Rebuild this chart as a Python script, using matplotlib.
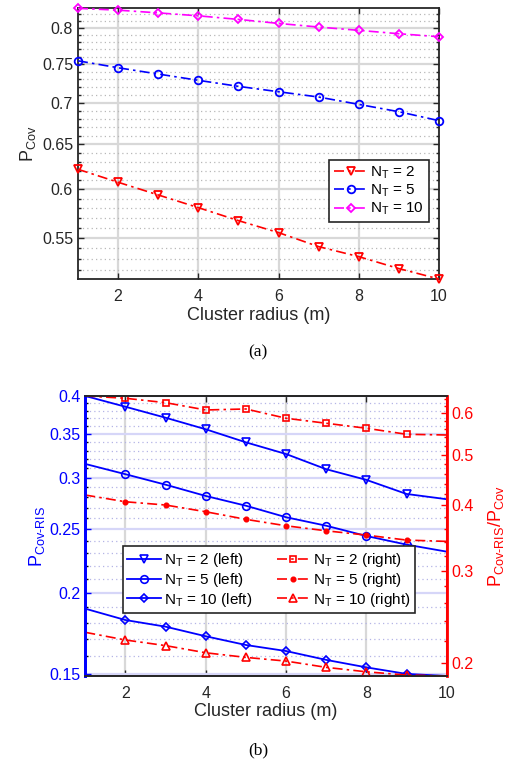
import matplotlib
matplotlib.use("Agg")
import matplotlib.pyplot as plt
from matplotlib.ticker import MultipleLocator, FuncFormatter, NullFormatter

plt.rcParams['font.family'] = ['Liberation Sans', 'DejaVu Sans']
plt.rcParams['mathtext.fontset'] = 'custom'
plt.rcParams['mathtext.rm'] = 'Liberation Sans'
plt.rcParams['mathtext.it'] = 'Liberation Sans:italic'

# ---------------- DATA ----------------
radius = [1, 2, 3, 4, 5, 6, 7, 8, 9, 10]

# (a) coverage probability without RIS
pcov_nt2 = [0.6219, 0.6077, 0.5941, 0.5808, 0.5675, 0.5555, 0.5418, 0.5322, 0.5210, 0.5114]
pcov_nt5 = [0.7546, 0.7453, 0.7370, 0.7288, 0.7210, 0.7141, 0.7074, 0.6982, 0.6891, 0.6782]
pcov_nt10 = [0.8286, 0.8259, 0.8219, 0.8176, 0.8124, 0.8066, 0.8014, 0.7967, 0.7919, 0.7877]

# (b) left axis: coverage with RIS
pris_nt2 = [0.4000, 0.3851, 0.3705, 0.3557, 0.3397, 0.3260, 0.3090, 0.2976, 0.2832, 0.2780]
pris_nt5 = [0.3148, 0.3036, 0.2926, 0.2812, 0.2717, 0.2609, 0.2532, 0.2442, 0.2369, 0.2311]
pris_nt10 = [0.1890, 0.1816, 0.1774, 0.1715, 0.1663, 0.1628, 0.1578, 0.1537, 0.1502, 0.1491]

# (b) right axis: ratio P_Cov-RIS / P_Cov
ratio_nt2 = [0.6475, 0.6410, 0.6287, 0.6088, 0.6115, 0.5870, 0.5742, 0.5617, 0.5470, 0.5453]
ratio_nt5 = [0.4186, 0.4064, 0.4006, 0.3889, 0.3761, 0.3656, 0.3576, 0.3509, 0.3433, 0.3413]
ratio_nt10 = [0.2287, 0.2211, 0.2157, 0.2090, 0.2048, 0.2015, 0.1960, 0.1922, 0.1895, 0.1887]

labels_nt = ["2", "5", "10"]

DARK = "#262626"
TICK_FS = 11.5
LABEL_FS = 13
LEG_FS = 11
fmt = FuncFormatter(lambda v, p: f"{v:g}")
dashdot = (0, (6, 2.5, 1.5, 2.5))


def style_log_y(axis, major, minor):
    axis.set_yscale('log')
    axis.yaxis.set_major_locator(MultipleLocator(major))
    axis.yaxis.set_minor_locator(MultipleLocator(minor))
    axis.yaxis.set_major_formatter(fmt)
    axis.yaxis.set_minor_formatter(NullFormatter())


fig = plt.figure(figsize=(5.09, 7.64), dpi=100)

# ---------------- (a) ----------------
ax = fig.add_axes([0.1532, 0.6348, 0.7093, 0.3543])
series_a = [(pcov_nt2, 'red', 'v'), (pcov_nt5, 'blue', 'o'), (pcov_nt10, 'magenta', 'D')]
for (vals, col, mk), lab in zip(series_a, labels_nt):
    ax.plot(radius, vals, color=col, linestyle=dashdot, lw=1.2, marker=mk,
            ms=5.5 if mk != 'D' else 4.5, mfc='none', mew=1.3, clip_on=False, zorder=3,
            label=r"N$_{\mathregular{T}}$ = " + lab)
style_log_y(ax, 0.05, 0.01)
ax.set_ylim(min(pcov_nt2), max(pcov_nt10))
ax.set_xlim(1, 10)
ax.set_xticks([2, 4, 6, 8, 10])
ax.grid(True, which='major', color='#d8d8d8', lw=1.6)
ax.grid(True, which='minor', axis='y', color='#b8b8b8', lw=0.9, linestyle=(0, (1, 2.5)))
ax.tick_params(which='both', direction='in', top=True, right=True, labelsize=TICK_FS,
               colors=DARK)
ax.tick_params(axis='x', pad=7)
ax.tick_params(which='major', length=4, width=1)
ax.tick_params(which='minor', length=2.5, width=1)
for s in ax.spines.values():
    s.set_color(DARK)
    s.set_linewidth(1.3)
ax.set_xlabel("Cluster radius (m)", fontsize=LABEL_FS, color=DARK, labelpad=2)
ax.set_ylabel(r"P$_{\mathregular{Cov}}$", fontsize=LABEL_FS, color=DARK, labelpad=3)
leg = ax.legend(loc='lower right', bbox_to_anchor=(0.972, 0.2106), fontsize=LEG_FS,
                fancybox=False, framealpha=1, edgecolor=DARK, borderaxespad=0,
                handlelength=2.2, handletextpad=0.2, labelspacing=0.12, borderpad=0.3)
leg.get_frame().set_linewidth(1.2)
fig.text(0.507, 0.539, "(a)", ha='center', va='center', fontsize=12.5,
         family='Liberation Serif')

# ---------------- (b) ----------------
bx = fig.add_axes([0.1676, 0.1152, 0.71, 0.3665])
bx2 = bx.twinx()
handles = []
left_series = [(pris_nt2, 'v'), (pris_nt5, 'o'), (pris_nt10, 'D')]
for (vals, mk), lab in zip(left_series, labels_nt):
    h, = bx.plot(radius, vals, color='blue', lw=1.3, marker=mk,
                 ms=5.5 if mk != 'D' else 4.5, mfc='none', mew=1.2,
                 markevery=range(1, 9), label=r"N$_{\mathregular{T}}$ = " + lab + " (left)")
    handles.append(h)
right_series = [(ratio_nt2, 's', 'none', 5), (ratio_nt5, 'o', 'red', 3.2),
                (ratio_nt10, '^', 'none', 5.5)]
for (vals, mk, fc, ms), lab in zip(right_series, labels_nt):
    h, = bx2.plot(radius, vals, color='red', linestyle=dashdot, lw=1.2, marker=mk,
                  ms=ms, mfc=fc, mew=1.2, markevery=range(1, 9),
                  label=r"N$_{\mathregular{T}}$ = " + lab + " (right)")
    handles.append(h)

style_log_y(bx, 0.05, 0.01)
style_log_y(bx2, 0.1, 0.02)
bx.set_ylim(min(pris_nt10), max(pris_nt2))
bx2.set_ylim(min(ratio_nt10), max(ratio_nt2))
bx.set_xlim(1, 10)
bx.set_xticks([2, 4, 6, 8, 10])
bx.grid(True, which='major', axis='x', color='#d8d8d8', lw=1.6)
bx.grid(True, which='major', axis='y', color='#d6d6f8', lw=1.6)
bx.grid(True, which='minor', axis='y', color='#b4b4e6', lw=0.9, linestyle=(0, (1, 2.5)))
bx.tick_params(which='both', direction='in', top=True, labelsize=TICK_FS)
bx.tick_params(axis='x', colors=DARK, pad=7)
bx.tick_params(axis='y', colors='blue')
bx.tick_params(which='major', length=4, width=1)
bx.tick_params(which='minor', length=2.5, width=1)
bx2.tick_params(which='both', direction='in', labelsize=TICK_FS, colors='red')
bx2.tick_params(which='major', length=4, width=1)
bx2.tick_params(which='minor', length=2.5, width=1)
for a in (bx, bx2):
    a.spines['top'].set_color(DARK)
    a.spines['bottom'].set_color(DARK)
    a.spines['left'].set_color('blue')
    a.spines['right'].set_color('red')
    for s in a.spines.values():
        s.set_linewidth(1.3)
bx.spines['left'].set_linewidth(2)
bx2.spines['left'].set_linewidth(2)
bx2.spines['right'].set_linewidth(2)
bx.set_xlabel("Cluster radius (m)", fontsize=LABEL_FS, color=DARK, labelpad=2)
bx.set_ylabel(r"P$_{\mathregular{Cov\text{-}RIS}}$", fontsize=LABEL_FS, color='blue',
              labelpad=2)
bx2.set_ylabel(r"P$_{\mathregular{Cov\text{-}RIS}}$/P$_{\mathregular{Cov}}$",
               fontsize=LABEL_FS, color='red', labelpad=9)
leg2 = bx2.legend(handles=handles, ncol=2, loc='lower left', bbox_to_anchor=(0.1035, 0.224),
                  fontsize=LEG_FS, fancybox=False, framealpha=1, edgecolor=DARK,
                  borderaxespad=0, handlelength=2.2, handletextpad=0.2, labelspacing=0.12,
                  borderpad=0.3, columnspacing=1.6)
leg2.get_frame().set_linewidth(1.2)
fig.text(0.507, 0.018, "(b)", ha='center', va='center', fontsize=12.5,
         family='Liberation Serif')

fig.savefig("out.png", dpi=100)
